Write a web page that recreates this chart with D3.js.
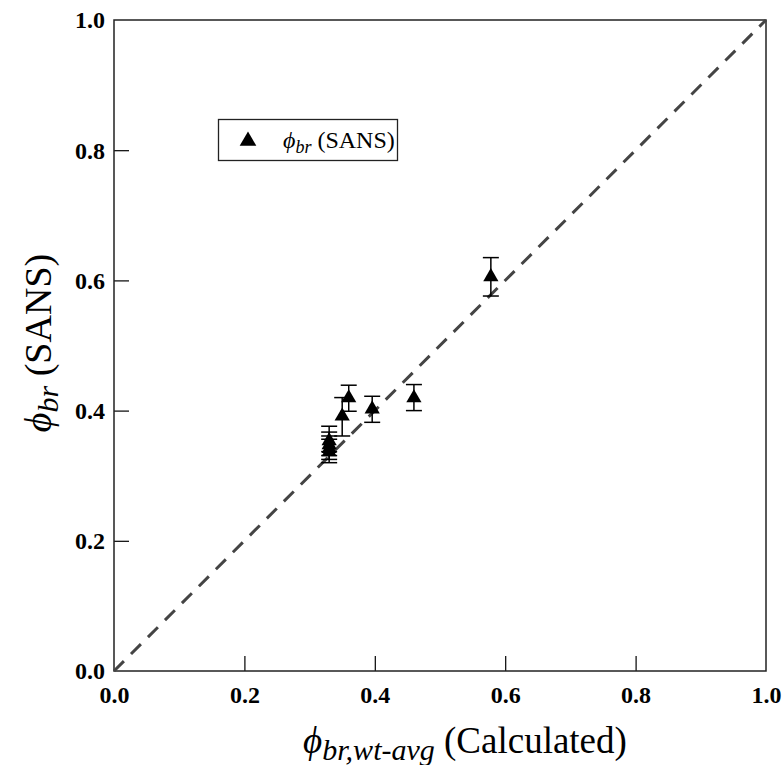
<!DOCTYPE html>
<html>
<head>
<meta charset="utf-8">
<script src="https://cdn.jsdelivr.net/npm/d3@7"></script>
<style>
  body { margin: 0; background: #fff; }
  svg text { font-family: 'Liberation Serif', 'Times New Roman', Times, serif !important; }
</style>
</head>
<body>
<svg></svg>
<script>
const width = 782;
const height = 765;
const margin = {left: 114, right: 16, top: 20, bottom: 94};

// DATA
const xCalc   = [0.578, 0.460, 0.396, 0.360, 0.350, 0.330, 0.330, 0.330, 0.330];
const ySans   = [0.607, 0.421, 0.404, 0.421, 0.393, 0.355, 0.349, 0.343, 0.338];
const errUp   = [0.028, 0.019, 0.018, 0.018, 0.027, 0.021, 0.018, 0.018, 0.018];
const errDown = [0.031, 0.021, 0.022, 0.022, 0.032, 0.018, 0.018, 0.018, 0.018];
const ticks = [0.0, 0.2, 0.4, 0.6, 0.8, 1.0];

const points = xCalc.map((x, i) => ({x: x, y: ySans[i], up: errUp[i], down: errDown[i]}));

const svg = d3.select("svg")
  .attr("width", width)
  .attr("height", height);

// CREATE SCALES
const xScale = d3.scaleLinear()
  .domain([0, 1])
  .range([margin.left, width - margin.right]);
const yScale = d3.scaleLinear()
  .domain([0, 1])
  .range([height - margin.bottom, margin.top]);

// AXES (ticks point inward)
const xAxis = d3.axisBottom(xScale)
  .tickValues(ticks)
  .tickFormat(d3.format(".1f"))
  .tickSize(-15)
  .tickSizeOuter(0)
  .tickPadding(10);
const yAxis = d3.axisLeft(yScale)
  .tickValues(ticks)
  .tickFormat(d3.format(".1f"))
  .tickSize(-15)
  .tickSizeOuter(0)
  .tickPadding(9);

const gx = svg.append("g")
  .attr("transform", `translate(0, ${height - margin.bottom})`)
  .call(xAxis);
const gy = svg.append("g")
  .attr("transform", `translate(${margin.left}, 0)`)
  .call(yAxis);

[gx, gy].forEach(g => {
  g.attr("font-family", null).attr("font-size", null);
  g.select(".domain").remove();
  g.selectAll(".tick line").attr("stroke", "#000").attr("stroke-width", 1.2);
  g.selectAll(".tick text")
    .style("font-weight", "bold")
    .style("font-size", "24px")
    .attr("fill", "#000");
});
// end ticks coincide with the frame
gx.selectAll(".tick").filter(d => d === 0 || d === 1).select("line").remove();
gy.selectAll(".tick").filter(d => d === 0 || d === 1).select("line").remove();
gx.selectAll(".tick text").attr("dy", "0.9em");
gy.selectAll(".tick text").attr("dy", "0.33em");

// FRAME
svg.append("rect")
  .attr("x", xScale(0))
  .attr("y", yScale(1))
  .attr("width", xScale(1) - xScale(0))
  .attr("height", yScale(0) - yScale(1))
  .attr("fill", "none")
  .attr("stroke", "#222")
  .attr("stroke-width", 1.5);

// 1:1 DASHED LINE
svg.append("line")
  .attr("x1", xScale(0))
  .attr("y1", yScale(0))
  .attr("x2", xScale(1))
  .attr("y2", yScale(1))
  .attr("stroke", "#444")
  .attr("stroke-width", 3)
  .attr("stroke-dasharray", "14 10");

// ERROR BARS
const capW = 8;
const eb = svg.append("g").attr("stroke", "#000").attr("stroke-width", 1.5);
eb.selectAll("line.v")
  .data(points)
  .enter()
  .append("line")
    .attr("x1", d => xScale(d.x))
    .attr("x2", d => xScale(d.x))
    .attr("y1", d => yScale(d.y + d.up))
    .attr("y2", d => yScale(d.y - d.down));
eb.selectAll("line.top")
  .data(points)
  .enter()
  .append("line")
    .attr("x1", d => xScale(d.x) - capW)
    .attr("x2", d => xScale(d.x) + capW)
    .attr("y1", d => yScale(d.y + d.up))
    .attr("y2", d => yScale(d.y + d.up));
eb.selectAll("line.bot")
  .data(points)
  .enter()
  .append("line")
    .attr("x1", d => xScale(d.x) - capW)
    .attr("x2", d => xScale(d.x) + capW)
    .attr("y1", d => yScale(d.y - d.down))
    .attr("y2", d => yScale(d.y - d.down));

// MARKERS
const tri = d3.symbol().type(d3.symbolTriangle).size(100);
svg.selectAll("path.pt")
  .data(points)
  .enter()
  .append("path")
    .attr("d", tri)
    .attr("transform", d => `translate(${xScale(d.x)}, ${yScale(d.y) + 1})`)
    .attr("fill", "#000");

// LEGEND
const leg = svg.append("g");
leg.append("rect")
  .attr("x", 218.5).attr("y", 119.5)
  .attr("width", 179).attr("height", 41)
  .attr("fill", "#fff")
  .attr("stroke", "#222")
  .attr("stroke-width", 1.3);
leg.append("path")
  .attr("d", d3.symbol().type(d3.symbolTriangle).size(120))
  .attr("transform", "translate(248, 141)")
  .attr("fill", "#000");
const legText = leg.append("text")
  .attr("x", 283)
  .attr("y", 148)
  .style("font-size", "24px");
legText.append("tspan").style("font-style", "italic").text("ϕ");
legText.append("tspan").style("font-style", "italic").style("font-size", "18px")
  .attr("dy", 5).text("br");
legText.append("tspan").attr("dy", -5).text(" (SANS)");

// AXIS TITLES
const xt = svg.append("text")
  .attr("x", 465)
  .attr("y", 753)
  .style("text-anchor", "middle")
  .style("font-size", "37px");
xt.append("tspan").style("font-style", "italic").text("ϕ");
xt.append("tspan").style("font-style", "italic").style("font-size", "30px")
  .attr("dy", 7).text("br,wt-avg");
xt.append("tspan").attr("dy", -7).text(" (Calculated)");

const yt = svg.append("text")
  .attr("transform", "rotate(-90)")
  .attr("x", -343)
  .attr("y", 51)
  .style("text-anchor", "middle")
  .style("font-size", "38px");
yt.append("tspan").style("font-style", "italic").text("ϕ");
yt.append("tspan").style("font-style", "italic").style("font-size", "30px")
  .attr("dy", 7).text("br");
yt.append("tspan").attr("dy", -7).text(" (SANS)");
</script>
</body>
</html>
